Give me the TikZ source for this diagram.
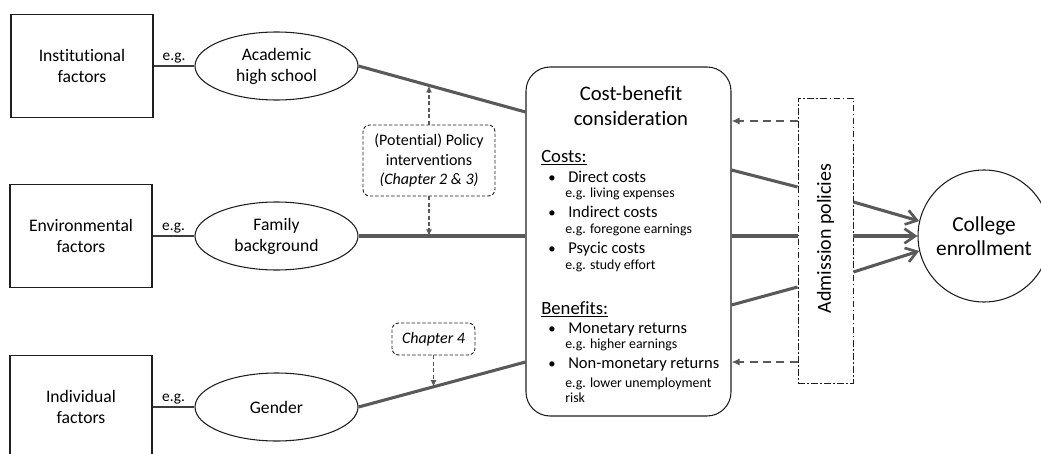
\documentclass[tikz,border=0pt]{standalone}
\usepackage{fontspec}
\setmainfont{Carlito}[Ligatures={NoCommon}]
\usetikzlibrary{arrows.meta,calc,shapes.geometric}
\definecolor{linkgray}{RGB}{89,89,89}
\definecolor{edgegray}{RGB}{60,60,60}
\definecolor{framegray}{RGB}{30,30,30}
\begin{document}
\begin{tikzpicture}[x=0.75pt,y=-0.75pt,
  factor/.style={draw=framegray,line width=0.8pt,minimum width=106.5pt,minimum height=77.25pt,
    align=center,inner sep=0pt,font={\fontsize{13.2pt}{15.75pt}\selectfont}},
  example/.style={draw=framegray,line width=0.8pt,ellipse,minimum width=122.25pt,minimum height=51pt,
    align=center,inner sep=0pt,font={\fontsize{13.2pt}{15.75pt}\selectfont}},
  eglink/.style={draw=edgegray,line width=0.8pt},
  eglabel/.style={font={\fontsize{11.5pt}{13pt}\selectfont},above,inner sep=2pt},
  mainlink/.style={draw=linkgray,line width=2.3pt},
  mainarrow/.style={mainlink,-{Straight Barb[length=8pt,width=11pt,line width=2pt]}},
  policyarrow/.style={draw=linkgray,line width=0.8pt,dash pattern=on 3pt off 1.8pt,
    -{Latex[length=5pt,width=4.5pt]}},
  admarrow/.style={draw=linkgray,line width=1.5pt,dash pattern=on 6pt off 4pt,
    -{Latex[length=6pt,width=5.5pt]}},
  notebox/.style={draw=framegray,line width=0.7pt,dash pattern=on 2.5pt off 1.5pt,rounded corners=5pt,
    align=center,inner sep=0pt,font={\fontsize{12pt}{14.6pt}\selectfont}},
  cbhead/.style={font={\fontsize{15.5pt}{18.75pt}\selectfont},align=center},
  cbsection/.style={anchor=base west,inner sep=0pt,font={\fontsize{14pt}{16pt}\selectfont}},
  cbitem/.style={anchor=base west,inner sep=0pt,font={\fontsize{12.4pt}{14pt}\selectfont}},
  cbbullet/.style={anchor=base,inner sep=0pt,font={\fontsize{11pt}{14pt}\selectfont}},
  cbeg/.style={anchor=base west,inner sep=0pt,font={\fontsize{10.4pt}{12pt}\selectfont}}
]
\useasboundingbox (0,0) rectangle (1041,453);
\clip (0,0) rectangle (1041,453);

% factor boxes
\node[factor] (inst)  at (82,66)   {Institutional\\factors};
\node[factor] (env)   at (81,236)  {Environmental\\factors};
\node[factor] (indiv) at (81,407)  {Individual\\factors};

% examples
\node[example] (acad) at (276.5,66)  {Academic\\high school};
\node[example] (fam)  at (276.5,236) {Family\\background};
\node[example] (gend) at (276.5,407) {Gender};

\draw[eglink] (inst.east)  -- node[eglabel] (eg1) {e.g.} (acad.west);
\draw[eglink] (env.east)   -- node[eglabel] (eg2) {e.g.} (fam.west);
\draw[eglink] (indiv.east) -- node[eglabel] (eg3) {e.g.} (gend.west);

% cost-benefit consideration
\node[draw=framegray,line width=0.8pt,rounded corners=18pt,minimum width=153.75pt,
  minimum height=261.75pt,inner sep=0pt] (cb) at (628.5,241.5) {};
\node[cbhead] (cbt) at (631,106) {Cost-benefit\\consideration};

\node[cbsection] (costs) at (541,162) {\underline{Costs:}};
\node[cbbullet] (b1) at (552,182) {\textbullet};
\node[cbitem] (i1) at (568,182) {Direct costs};
\node[cbeg] (e1) at (565,197) {e.g. living expenses};
\node[cbbullet] (b2) at (552,217) {\textbullet};
\node[cbitem] (i2) at (568,217) {Indirect costs};
\node[cbeg] (e2) at (565,233) {e.g. foregone earnings};
\node[cbbullet] (b3) at (552,253) {\textbullet};
\node[cbitem] (i3) at (568,253) {Psycic costs};
\node[cbeg] (e3) at (565,269) {e.g. study effort};

\node[cbsection] (bens) at (541,314) {\underline{Benefits:}};
\node[cbbullet] (b4) at (552,333) {\textbullet};
\node[cbitem] (i4) at (568,333) {Monetary returns};
\node[cbeg] (e4) at (565,348) {e.g. higher earnings};
\node[cbbullet] (b5) at (552,368) {\textbullet};
\node[cbitem] (i5) at (568,368) {Non-monetary returns};
\node[cbeg] (e5) at (565,387) {e.g. lower unemployment};
\node[cbeg] (e6) at (565,402) {risk};

% admission policies and outcome
\node[draw=framegray,line width=0.7pt,dash pattern=on 5pt off 1.8pt on 1.2pt off 1.8pt,
  minimum width=41.25pt,minimum height=213.75pt,inner sep=0pt] (adm) at (825.5,240.5) {};
\node[rotate=90,font={\fontsize{15pt}{17pt}\selectfont}] (admt) at (825.5,238.5) {Admission policies};

\node[draw=framegray,line width=0.8pt,circle,minimum size=99pt,inner sep=0pt,align=center,
  font={\fontsize{16pt}{18pt}\selectfont}] (coll) at (984,236) {College\\enrollment};

% main flows into the cost-benefit consideration
\coordinate (cbA) at (cb.west |- 0,112);
\coordinate (cbG) at (cb.west |- 0,362);
\draw[mainlink] (acad.east) -- (cbA);
\draw[mainlink] (fam.east) -- (cb.west |- fam.east);
\draw[mainlink] (gend.east) -- (cbG);

% flows through admission policies
\draw[mainlink] (cb.east |- 0,170) -- (adm.west |- 0,187);
\draw[mainlink] (cb.east |- 0,236) -- (adm.west |- 0,236);
\draw[mainlink] (cb.east |- 0,305) -- (adm.west |- 0,287);
\draw[mainarrow] (adm.east |- 0,202) -- (coll.167);
\draw[mainarrow] (adm.east |- 0,236) -- (coll.west);
\draw[mainarrow] (adm.east |- 0,272) -- (coll.193);

% feedback of admission policies
\draw[admarrow] (adm.west |- 0,121) -- (cb.east |- 0,121);
\draw[admarrow] (adm.west |- 0,362) -- (cb.east |- 0,362);

% policy interventions
\node[notebox,minimum width=99pt,minimum height=53.25pt] (pol) at (429,160.5)
  {(Potential) Policy\\interventions\\\textit{(Chapter 2 \& 3)}};
\coordinate (pAcad) at ($(acad.east)!0.43!(cbA)$);
\draw[policyarrow] (pol.north) -- (pol.north |- pAcad);
\draw[policyarrow] (pol.south) -- (pol.south |- fam.east);

\node[notebox,minimum width=62.25pt,minimum height=24pt] (ch4) at (433.5,339) {\textit{Chapter 4}};
\coordinate (pGend) at ($(gend.east)!0.45!(cbG)$);
\draw[policyarrow] (ch4.south) -- (ch4.south |- pGend);
\end{tikzpicture}
\end{document}
